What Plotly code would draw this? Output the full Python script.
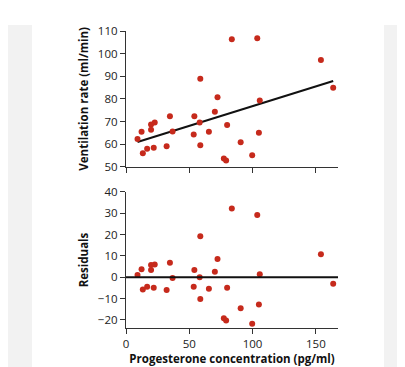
import numpy as np
import plotly.graph_objects as go

# Data
progesterone = [9.1, 12.3, 13.3, 16.7, 19.8, 19.8, 22.7, 21.9, 32.1, 34.7,
                36.8, 53.5, 54.0, 58.2, 58.7, 58.7, 65.5, 70.2, 72.3, 77.3,
                79.1, 79.9, 83.6, 90.6, 99.7, 103.7, 105.0, 105.7, 154.0, 163.7]
ventilation = [62.3, 65.5, 56.0, 57.9, 68.7, 66.4, 69.5, 58.4, 59.1, 72.3,
               65.6, 64.3, 72.3, 69.6, 88.9, 59.5, 65.5, 74.3, 80.7, 53.6,
               52.8, 68.5, 106.4, 60.8, 55.1, 106.8, 65.0, 79.3, 97.2, 84.9]
residuals = [1.1, 3.7, -5.8, -4.5, 5.7, 3.4, 6.0, -4.9, -6.0, 6.8,
             -0.3, -4.5, 3.4, 0.0, 19.2, -10.2, -5.4, 2.6, 8.6, -19.2,
             -20.3, -4.9, 32.3, -14.5, -21.8, 29.2, -12.8, 1.4, 10.8, -3.1]

x_ticks = [0, 50, 100, 150]
top_y_ticks = [50, 60, 70, 80, 90, 100, 110]
bottom_y_ticks = [-20, -10, 0, 10, 20, 30, 40]

x_title = "Progesterone concentration (pg/ml)"
top_y_title = "Ventilation rate (ml/min)"
bottom_y_title = "Residuals"

# Least-squares regression line
slope, intercept = np.polyfit(progesterone, ventilation, 1)
line_x = [min(progesterone), max(progesterone)]
line_y = [intercept + slope * v for v in line_x]

DOT = "#c62a1c"
AXIS = "#333333"
FONT = "Open Sans"

fig = go.Figure()
fig.add_trace(go.Scatter(x=line_x, y=line_y, mode="lines",
                         line=dict(color="#111111", width=2),
                         xaxis="x", yaxis="y", hoverinfo="skip"))
fig.add_trace(go.Scatter(x=progesterone, y=ventilation, mode="markers",
                         marker=dict(color=DOT, size=6),
                         xaxis="x", yaxis="y"))
fig.add_trace(go.Scatter(x=progesterone, y=residuals, mode="markers",
                         marker=dict(color=DOT, size=6),
                         xaxis="x2", yaxis="y2"))

W, H = 405, 367
L, R, T, B = 118, 75, 23, 42
pw, ph = W - L - R, H - T - B


def px_x(p):
    return (p - L) / pw


def px_y(p):
    return (H - B - p) / ph


common_axis = dict(showline=True, linecolor=AXIS, linewidth=1.2,
                   ticks="outside", ticklen=5, tickwidth=1.2, tickcolor=AXIS,
                   showgrid=False, zeroline=False,
                   tickfont=dict(family=FONT, size=11.5, color="#222222"))

fig.update_layout(
    width=W, height=H,
    margin=dict(l=L, r=R, t=T, b=B),
    paper_bgcolor="white", plot_bgcolor="white",
    showlegend=False,
    xaxis=dict(common_axis, domain=[0, 1], anchor="y", range=[0, 167.5],
               tickvals=x_ticks, showticklabels=False),
    yaxis=dict(common_axis, domain=[0.543, 1], anchor="x", range=[50, 110],
               tickvals=top_y_ticks,
               title=dict(text=top_y_title, standoff=6,
                          font=dict(family=FONT, size=11.5, color="#111111",
                                    weight="bold"))),
    xaxis2=dict(common_axis, domain=[0, 1], anchor="y2", range=[0, 167.5],
                tickvals=x_ticks,
                title=dict(text=x_title, standoff=4,
                           font=dict(family=FONT, size=11.5, color="#111111",
                                     weight="bold"))),
    yaxis2=dict(common_axis, domain=[0, 0.458], anchor="x2", range=[-23.8, 40],
                tickvals=bottom_y_ticks,
                title=dict(text=bottom_y_title, standoff=6,
                           font=dict(family=FONT, size=11.5, color="#111111",
                                     weight="bold"))),
    shapes=[
        dict(type="rect", xref="paper", yref="paper", layer="below",
             x0=px_x(0), x1=px_x(24), y0=px_y(H), y1=px_y(17),
             fillcolor="#f2f2f2", line=dict(width=0)),
        dict(type="rect", xref="paper", yref="paper", layer="below",
             x0=px_x(376), x1=px_x(W), y0=px_y(H), y1=px_y(17),
             fillcolor="#f2f2f2", line=dict(width=0)),
        dict(type="line", xref="x2", yref="y2", x0=-3, x1=167.5, y0=0, y1=0,
             line=dict(color="#111111", width=2)),
    ],
)

fig.write_html("out.html")
